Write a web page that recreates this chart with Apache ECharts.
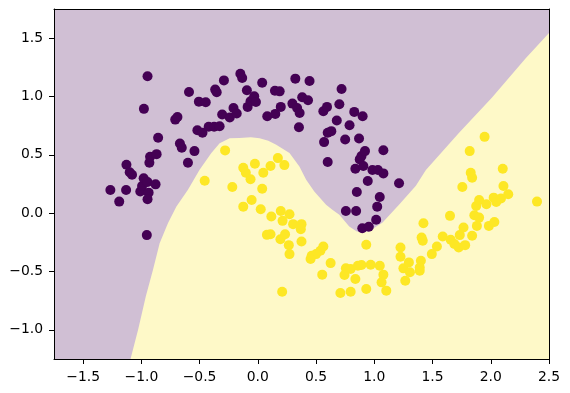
<!DOCTYPE html>
<html><head><meta charset="utf-8">
<script src="https://cdn.jsdelivr.net/npm/echarts@6/dist/echarts.min.js"></script>
<style>html,body{margin:0;padding:0;background:#fff}#c{width:570px;height:393px}</style>
</head><body><div id="c"></div>
<script>
// Decision boundary (yellow region lies below this curve)
const boundaryX = [-1.093,-1.028,-0.962,-0.90,-0.843,-0.771,-0.699,-0.60,-0.50,-0.399,-0.328,-0.242,-0.157,-0.06,0.015,0.09,0.158,0.272,0.357,0.415,0.485,0.586,0.64,0.70,0.785,0.85,0.95,1.069,1.214,1.357,1.443,1.728,2.011,2.30,2.5];
const boundaryY = [-1.25,-1.0,-0.714,-0.485,-0.257,-0.085,0.057,0.20,0.372,0.515,0.60,0.643,0.645,0.65,0.643,0.62,0.586,0.515,0.40,0.286,0.186,0.072,0.029,-0.014,-0.114,-0.157,-0.157,-0.083,0.075,0.235,0.37,0.689,0.992,1.328,1.545];

// Class 0 points (purple)
const purpleX = [-1.266,-1.19,-1.131,-1.128,-1.10,-1.08,-1.009,-0.994,-0.98,-0.947,-0.9375,-0.947,-0.878,-0.931,-0.925,-0.869,-0.856,-0.978,-0.947,-0.953,-0.709,-0.69,-0.669,-0.653,-0.60,-0.591,-0.544,-0.519,-0.506,-0.475,-0.447,-0.422,-0.375,-0.366,-0.353,-0.328,-0.306,-0.291,-0.241,-0.209,-0.181,-0.15,-0.134,-0.094,-0.0875,-0.0625,-0.031,-0.016,0.0375,0.081,0.15,0.147,0.1875,0.197,0.322,0.297,0.3375,0.359,0.353,0.381,0.431,0.444,0.5625,0.594,0.569,0.60,0.631,0.60,0.678,0.70,0.719,0.75,0.7875,0.828,0.869,0.90,0.8375,0.875,0.89,0.92,0.906,0.944,1.078,0.984,1.031,1.078,0.85,1.047,1.025,0.756,0.844,1.016,0.897,0.953,1.2125];
const purpleY = [0.199,0.099,0.199,0.415,0.35,0.33,0.185,0.233,0.30,0.267,0.176,0.119,0.247,0.432,0.483,0.506,0.646,0.894,1.173,-0.188,0.802,0.825,0.597,0.56,0.432,1.039,0.532,0.711,0.956,0.689,0.95,0.74,0.74,1.059,1.036,0.745,0.845,1.138,0.82,0.902,0.854,1.195,1.158,1.053,0.911,0.959,1.002,0.953,1.118,0.831,0.851,1.05,1.044,0.911,1.153,0.939,0.902,0.859,0.737,0.993,0.968,1.133,0.874,0.911,0.609,0.689,0.703,0.438,0.794,0.933,1.064,0.632,0.754,0.868,0.64,0.831,0.381,0.461,0.489,0.532,0.404,0.276,0.54,0.37,0.37,0.341,0.182,0.139,0.056,0.019,0.019,-0.057,-0.129,-0.117,0.256];

// Class 1 points (yellow)
const yellowX = [-0.281,-0.456,-0.219,-0.125,-0.103,-0.0625,-0.025,-0.053,-0.125,0.025,0.0375,0.047,0.109,0.172,0.228,0.116,0.197,0.2125,0.272,0.303,0.375,0.369,0.078,0.109,0.194,0.234,0.266,0.272,0.375,0.209,0.4625,0.5,0.5375,0.5625,0.453,0.625,0.553,0.756,0.744,0.797,0.859,0.89,0.8375,0.969,1.047,1.078,1.0625,0.709,0.797,0.931,1.103,0.931,1.225,1.225,1.25,1.266,1.297,1.306,1.406,1.416,1.422,1.40,1.39,1.39,1.494,1.5375,1.5875,1.65,1.656,1.6875,1.725,1.734,1.766,1.78,1.84,1.756,1.819,1.828,1.84,1.947,1.859,1.90,1.875,1.90,1.881,1.984,2.031,1.9625,2.025,2.047,2.0875,2.15,2.109,2.103,2.397];
const yellowY = [0.538,0.278,0.224,0.389,0.347,0.29,0.424,0.113,0.056,0.034,0.21,0.347,0.404,0.472,0.412,-0.029,0.019,-0.066,-0.009,-0.094,-0.094,-0.137,-0.186,-0.18,-0.223,-0.18,-0.274,-0.351,-0.243,-0.673,-0.365,-0.351,-0.322,-0.285,-0.393,-0.428,-0.527,-0.473,-0.53,-0.479,-0.45,-0.445,-0.564,-0.442,-0.45,-0.527,-0.593,-0.684,-0.673,-0.65,-0.664,-0.271,-0.294,-0.373,-0.473,-0.579,-0.422,-0.507,-0.208,-0.237,-0.086,-0.408,-0.465,-0.493,-0.351,-0.285,-0.2,-0.023,-0.228,-0.265,-0.294,-0.188,-0.123,-0.274,-0.194,0.224,0.532,0.347,0.304,0.654,-0.018,-0.038,0.062,0.113,-0.109,-0.109,-0.075,0.077,0.133,0.096,0.125,0.162,0.233,0.381,0.099];

const xTicks = [-1.5,-1.0,-0.5,0.0,0.5,1.0,1.5,2.0,2.5];
const yTicks = [-1.0,-0.5,0.0,0.5,1.0,1.5];

const zip = (a, b) => a.map((v, i) => [v, b[i]]);
const fmt = v => (v < 0 ? '\u2212' : '') + Math.abs(v).toFixed(1);
const font = 'DejaVu Sans';

const chart = echarts.init(document.getElementById('c'), null, {renderer: 'canvas'});
const tick = {show: true, inside: false, length: 5, lineStyle: {color: '#000', width: 1}};
const label = {color: '#000', fontFamily: font, fontSize: 13.9, formatter: fmt};
const line = {show: true, onZero: false, lineStyle: {color: '#000', width: 1}};
chart.setOption({
  animation: false,
  grid: {left: 54, right: 21, top: 9, bottom: 34, show: true, backgroundColor: '#d0bfd4', borderWidth: 0},
  xAxis: [
    {type: 'value', min: -1.75, max: 2.5, interval: 0.25, position: 'bottom', splitLine: {show: false}, axisLine: line,
      axisTick: Object.assign({}, tick, {customValues: xTicks}),
      axisLabel: Object.assign({}, label, {customValues: xTicks, margin: 11})},
    {type: 'value', min: -1.75, max: 2.5, position: 'top', axisLine: line, axisTick: {show: false}, axisLabel: {show: false}, splitLine: {show: false}}
  ],
  yAxis: [
    {type: 'value', min: -1.25, max: 1.75, interval: 0.25, position: 'left', splitLine: {show: false}, axisLine: line,
      axisTick: Object.assign({}, tick, {customValues: yTicks}),
      axisLabel: Object.assign({}, label, {customValues: yTicks, margin: 11})},
    {type: 'value', min: -1.25, max: 1.75, position: 'right', axisLine: line, axisTick: {show: false}, axisLabel: {show: false}, splitLine: {show: false}}
  ],
  series: [
    {type: 'line', data: zip(boundaryX, boundaryY), showSymbol: false, silent: true,
      lineStyle: {width: 0}, areaStyle: {color: '#fef9c8', opacity: 1, origin: 'start'}, z: 1},
    {type: 'scatter', data: zip(purpleX, purpleY), symbolSize: 10, itemStyle: {color: '#440154', opacity: 1}, z: 3},
    {type: 'scatter', data: zip(yellowX, yellowY), symbolSize: 10, itemStyle: {color: '#fde725', opacity: 1}, z: 3}
  ]
});
</script></body></html>
